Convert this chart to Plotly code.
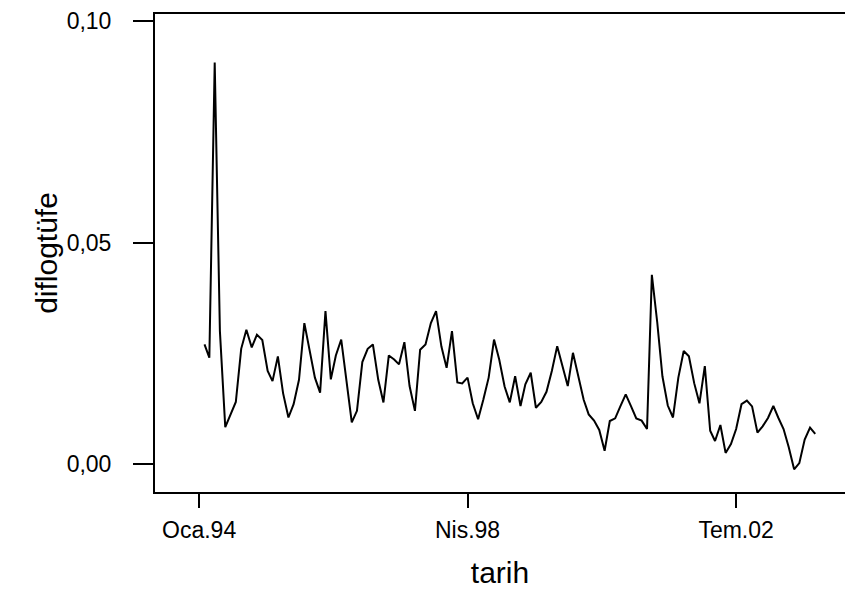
import plotly.graph_objects as go
import pandas as pd

# Monthly series, Feb 1994 .. Oct 2003 (117 points)
months = pd.date_range("1994-02-01", periods=117, freq="MS").strftime("%Y-%m-%d").tolist()

diflogtufe = [
    0.0270, 0.0240, 0.0906, 0.0300, 0.0083, 0.0110, 0.0140, 0.0260, 0.0303, 0.0263, 0.0292,  # 1994
    0.0280, 0.0210, 0.0187, 0.0243, 0.0160, 0.0105, 0.0135, 0.0190, 0.0318, 0.0258, 0.0195, 0.0161,  # 1995
    0.0345, 0.0191, 0.0245, 0.0281, 0.0190, 0.0094, 0.0120, 0.0230, 0.0260, 0.0270, 0.0190, 0.0139,  # 1996
    0.0245, 0.0236, 0.0225, 0.0275, 0.0176, 0.0120, 0.0258, 0.0270, 0.0318, 0.0345, 0.0265, 0.0217,  # 1997
    0.0300, 0.0184, 0.0182, 0.0195, 0.0137, 0.0101, 0.0145, 0.0195, 0.0281, 0.0236, 0.0175, 0.0139,  # 1998
    0.0198, 0.0131, 0.0180, 0.0206, 0.0127, 0.0140, 0.0163, 0.0210, 0.0266, 0.0220, 0.0176, 0.0251,  # 1999
    0.0195, 0.0145, 0.0112, 0.0098, 0.0077, 0.0030, 0.0097, 0.0103, 0.0131, 0.0157, 0.0130, 0.0103,  # 2000
    0.0098, 0.0079, 0.0427, 0.0320, 0.0198, 0.0132, 0.0105, 0.0195, 0.0255, 0.0243, 0.0182, 0.0137,  # 2001
    0.0221, 0.0075, 0.0052, 0.0088, 0.0025, 0.0045, 0.0079, 0.0135, 0.0143, 0.0130, 0.0071, 0.0085,  # 2002
    0.0104, 0.0131, 0.0105, 0.0079, 0.0038, -0.0012, 0.0002, 0.0055, 0.0082, 0.0068,  # 2003
]

tick_dates = ["1994-01-01", "1998-04-01", "2002-07-01"]
tick_labels = ["Oca.94", "Nis.98", "Tem.02"]
y_ticks = [0.0, 0.05, 0.10]

font_family = "Liberation Sans, Arial, sans-serif"

fig = go.Figure(
    go.Scatter(x=months, y=diflogtufe, mode="lines",
               line=dict(color="black", width=2), showlegend=False)
)

fig.update_layout(
    width=845, height=593,
    margin=dict(l=155, r=0, t=14, b=101),
    paper_bgcolor="white", plot_bgcolor="white",
    separators=",.",
    font=dict(family=font_family, color="black", size=23),
    xaxis=dict(
        range=["1993-04-21", "2004-03-21"],
        tickvals=tick_dates, ticktext=tick_labels,
        ticks="outside", ticklen=14, tickwidth=1.5, tickcolor="black",
        showline=True, linecolor="black", linewidth=2, mirror=True,
        showgrid=False, zeroline=False, automargin=False,
        tickfont=dict(size=23), ticklabelstandoff=2,
        title=dict(text="tarih", font=dict(size=30), standoff=20),
    ),
    yaxis=dict(
        range=[-0.00632, 0.10158],
        tickvals=y_ticks, tickformat=".2f",
        ticks="outside", ticklen=20, tickwidth=1.5, tickcolor="black",
        showline=True, linecolor="black", linewidth=2, mirror=False,
        showgrid=False, zeroline=False, automargin=False,
        tickfont=dict(size=23), ticklabelstandoff=17,
        title=dict(text="diflogtüfe", font=dict(size=30), standoff=0),
    ),
)

fig.write_html("out.html", config={"displayModeBar": False},
               post_script="document.body.style.margin='0px';")
